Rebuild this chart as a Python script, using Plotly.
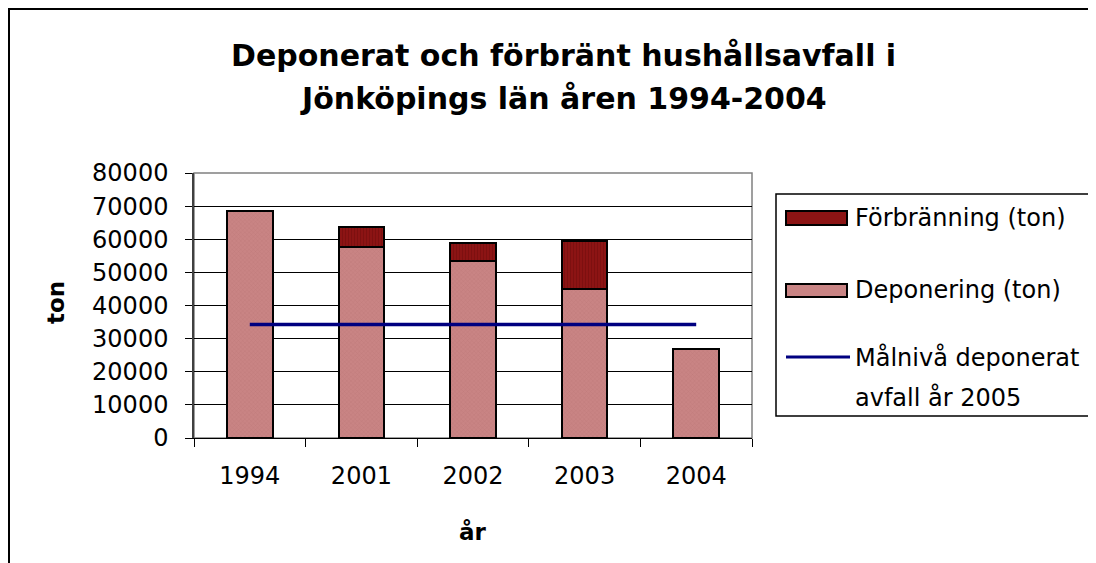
import plotly.graph_objects as go

years = ["1994", "2001", "2002", "2003", "2004"]
deponering = [68600, 57700, 53500, 45000, 27000]
forbranning = [0, 6100, 5500, 14500, 0]
malniva = [34300, 34300, 34300, 34300, 34300]

series_names = ["Förbränning (ton)", "Deponering (ton)", "Målnivå deponerat<br>avfall år 2005"]
y_ticks = [0, 10000, 20000, 30000, 40000, 50000, 60000, 70000, 80000]
y_ticktext = [str(v) for v in y_ticks]

DEP_COLOR = "#C98484"
FOR_COLOR = "#8C1414"
LINE_COLOR = "#000080"

W, H = 1096, 563
OFF = 8  # page body margin offset
# plot area in screen pixels
SL, SR, ST, SB = 194, 752, 173, 438
L, R, T, B = SL - OFF, SR - OFF, ST - OFF, SB - OFF


def px(x):
    return (x - SL) / (SR - SL)


def py(y):
    return (SB - y) / (SB - ST)


fig = go.Figure()
fig.add_trace(go.Bar(
    x=years, y=deponering, name=series_names[1],
    marker=dict(color=DEP_COLOR, line=dict(color="black", width=2),
                pattern=dict(shape="x", size=3, solidity=0.15, fgcolor="#A86060")),
    showlegend=False,
))
fig.add_trace(go.Bar(
    x=years, y=forbranning, name=series_names[0],
    marker=dict(color=FOR_COLOR, line=dict(color="black", width=2),
                pattern=dict(shape="|", size=3, solidity=0.3, fgcolor="#6A0A0A")),
    showlegend=False,
))
fig.add_trace(go.Scatter(
    x=years, y=malniva, name=series_names[2], mode="lines",
    line=dict(color=LINE_COLOR, width=3.5), showlegend=False,
))

font = "DejaVu Sans, Arial, sans-serif"

fig.update_layout(
    width=W, height=H,
    margin=dict(l=L, r=W - R, t=T, b=H - B, pad=0),
    paper_bgcolor="white", plot_bgcolor="white",
    barmode="stack", bargap=0.59,
    font=dict(family=font, color="black"),
    xaxis=dict(
        type="category", tickson="boundaries", ticks="outside", ticklen=8,
        tickcolor="black", showline=True, linecolor="black", linewidth=1,
        showgrid=False, tickfont=dict(size=24), ticklabelstandoff=16,
    ),
    yaxis=dict(
        range=[0, 80000], tickvals=y_ticks, ticktext=y_ticktext, ticks="outside", ticklen=7,
        tickcolor="black", showline=True, linecolor="#404040", linewidth=1.5,
        showgrid=True, gridcolor="black", gridwidth=1, tickfont=dict(size=24),
        ticklabelstandoff=12, zeroline=False,
    ),
)

shapes = []
shapes.append(dict(type="rect", xref="paper", yref="paper", x0=0, x1=1, y0=0, y1=1,
                   line=dict(color="#808080", width=1.5), layer="below"))
shapes.append(dict(type="rect", xref="paper", yref="paper", x0=px(9), x1=px(1200),
                   y0=py(700), y1=py(9), line=dict(color="black", width=2)))
shapes.append(dict(type="rect", xref="paper", yref="paper", x0=px(776), x1=px(1200),
                   y0=py(416), y1=py(194), line=dict(color="black", width=1.5)))
shapes.append(dict(type="rect", xref="paper", yref="paper", x0=px(786), x1=px(847),
                   y0=py(225), y1=py(211), fillcolor=FOR_COLOR, line=dict(color="black", width=2)))
shapes.append(dict(type="rect", xref="paper", yref="paper", x0=px(786), x1=px(847),
                   y0=py(297), y1=py(284), fillcolor=DEP_COLOR, line=dict(color="black", width=2)))
shapes.append(dict(type="line", xref="paper", yref="paper", x0=px(786), x1=px(850),
                   y0=py(357), y1=py(357), line=dict(color=LINE_COLOR, width=3)))

annotations = []
leg_y = [218, 290, 357]
for name, yy in zip(series_names, leg_y):
    for i, part in enumerate(name.split("<br>")):
        annotations.append(dict(xref="paper", yref="paper", x=px(853), y=py(yy + 40 * i),
                                xanchor="left", yanchor="middle", text=part, showarrow=False,
                                align="left", font=dict(size=24, family=font)))
annotations.append(dict(xref="paper", yref="paper", x=px(563), y=py(55),
                        text="<b>Deponerat och förbränt hushållsavfall i</b>", showarrow=False,
                        xanchor="center", yanchor="middle", font=dict(size=30, family=font)))
annotations.append(dict(xref="paper", yref="paper", x=px(563), y=py(98),
                        text="<b>Jönköpings län åren 1994-2004</b>", showarrow=False,
                        xanchor="center", yanchor="middle", font=dict(size=30, family=font)))
annotations.append(dict(xref="paper", yref="paper", x=px(56), y=py(303),
                        text="<b>ton</b>", showarrow=False, textangle=-90,
                        xanchor="center", yanchor="middle", font=dict(size=23, family=font)))
annotations.append(dict(xref="paper", yref="paper", x=px(473), y=py(532),
                        text="<b>år</b>", showarrow=False,
                        xanchor="center", yanchor="middle", font=dict(size=23, family=font)))

fig.update_layout(shapes=shapes, annotations=annotations)

fig.write_html("out.html")
